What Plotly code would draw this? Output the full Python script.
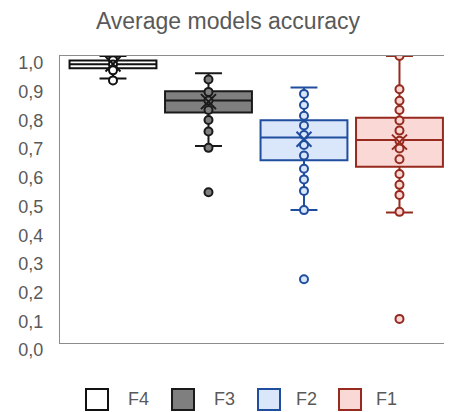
import plotly.graph_objects as go

categories = ["F4", "F3", "F2", "F1"]

f4_points = [1.0, 0.985, 0.97, 0.95, 0.915]
f3_points = [0.918, 0.875, 0.845, 0.812, 0.777, 0.737, 0.68, 0.525]
f2_points = [0.868, 0.829, 0.792, 0.758, 0.725, 0.69, 0.653, 0.607, 0.57, 0.53, 0.463, 0.222]
f1_points = [1.0, 0.884, 0.844, 0.812, 0.775, 0.74, 0.705, 0.678, 0.64, 0.589, 0.551, 0.516, 0.457, 0.084]

q1_vals = [0.957, 0.803, 0.637, 0.614]
median_vals = [0.971, 0.845, 0.716, 0.707]
q3_vals = [0.984, 0.877, 0.776, 0.785]
lower_vals = [0.922, 0.686, 0.463, 0.455]
upper_vals = [1.0, 0.94, 0.89, 1.0]
mean_vals = [0.972, 0.841, 0.71, 0.70]

y_ticks = [0.0, 0.1, 0.2, 0.3, 0.4, 0.5, 0.6, 0.7, 0.8, 0.9, 1.0]
y_tick_labels = ["0,0", "0,1", "0,2", "0,3", "0,4", "0,5", "0,6", "0,7", "0,8", "0,9", "1,0"]

points = [f4_points, f3_points, f2_points, f1_points]
fills = ["#FFFFFF", "#7F7F7F", "#DAE6FA", "#F9D8D6"]
lines = ["#111111", "#1A1A1A", "#1F4E9E", "#962A1E"]

fig = go.Figure()

for i, name in enumerate(categories):
    fig.add_trace(go.Box(
        x=[i], q1=[q1_vals[i]], median=[median_vals[i]], q3=[q3_vals[i]],
        lowerfence=[lower_vals[i]], upperfence=[upper_vals[i]],
        name=name, width=0.91, whiskerwidth=0.31, boxpoints=False,
        fillcolor=fills[i], line=dict(color=lines[i], width=2),
        showlegend=False, hoverinfo="skip",
    ))

for i, name in enumerate(categories):
    fig.add_trace(go.Scatter(
        x=[i] * len(points[i]), y=points[i], mode="markers",
        marker=dict(size=8, color=fills[i], line=dict(color=lines[i], width=2)),
        showlegend=False, hoverinfo="skip",
    ))

for i, name in enumerate(categories):
    fig.add_trace(go.Scatter(
        x=[i], y=[mean_vals[i]], mode="markers",
        marker=dict(size=15, symbol="x-thin-open", color=lines[i], line=dict(color=lines[i], width=2)),
        showlegend=False, hoverinfo="skip",
    ))

# page body adds an 8px offset; geometry below is in window pixels
OFF = 8
W, H = 452, 412
L, R, T, B = 52, 8, 48, 77
pw, ph = W - L - R, H - T - B

def px(x):
    return (x - OFF - L) / pw

def py(y):
    return (H - B - (y - OFF)) / ph

leg_sq_x = [86, 172, 258, 339]
leg_tx_x = [126, 212, 294, 374]
for i, name in enumerate(categories):
    fig.add_shape(type="rect", xref="paper", yref="paper",
                  x0=px(leg_sq_x[i]), x1=px(leg_sq_x[i] + 22),
                  y0=py(389), y1=py(410),
                  fillcolor=fills[i], line=dict(color=lines[i], width=2))
    fig.add_annotation(text=name, xref="paper", yref="paper",
                       x=px(leg_tx_x[i]), y=py(399), xanchor="left", yanchor="middle",
                       showarrow=False, font=dict(size=18, color="#595959"))

fig.update_layout(
    width=W, height=H,
    margin=dict(l=L, r=R, t=T, b=B, autoexpand=False),
    paper_bgcolor="white", plot_bgcolor="white",
    font=dict(family="Liberation Sans, Arial, sans-serif", color="#595959"),
    title=dict(text="Average models accuracy", x=(228 - OFF) / W, xref="container", xanchor="center",
               y=1 - (21 - OFF) / H, yref="container", yanchor="middle",
               font=dict(size=23, color="#595959")),
    showlegend=False,
)
fig.update_xaxes(range=[-0.555, 3.55], showticklabels=False, showgrid=False, zeroline=False,
                 showline=True, mirror=True, linecolor="#8C8C8C", linewidth=1, ticks="")
fig.update_yaxes(range=[0, 1.0], tickvals=y_ticks, ticktext=y_tick_labels,
                 showgrid=False, zeroline=False, showline=True, mirror=False,
                 linecolor="#8C8C8C", linewidth=1, ticks="",
                 tickfont=dict(size=18, color="#595959"), ticklabelstandoff=12,
                 ticklabelshift=7)

fig.write_html("out.html")
